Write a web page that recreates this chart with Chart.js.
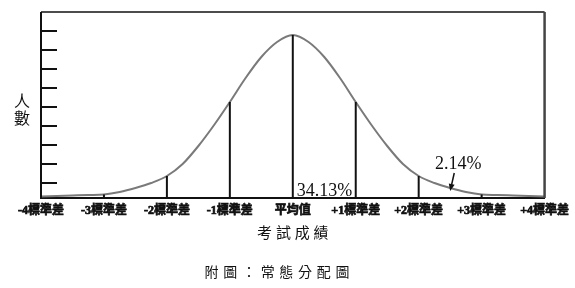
<!DOCTYPE html>
<html>
<head>
<meta charset="utf-8">
<script src="https://cdn.jsdelivr.net/npm/chart.js@4/dist/chart.umd.min.js"></script>
<style>
  html, body { margin: 0; padding: 0; background: #fff; }
  #wrap { width: 575px; height: 288px; position: relative; }
</style>
</head>
<body>
<div id="wrap"><canvas id="c" width="575" height="288"></canvas></div>
<script>
// Standard-deviation positions along the score axis and their labels
const sigmaTicks = [-4, -3, -2, -1, 0, 1, 2, 3, 4];
const sigmaLabels = ['-4標準差', '-3標準差', '-2標準差', '-1標準差', '平均值', '+1標準差', '+2標準差', '+3標準差', '+4標準差'];

// Bell curve: position (in SD) and head-count height
const curveX = [-4, -3.75, -3.5, -3.25, -3, -2.75, -2.5, -2.25, -2, -1.75, -1.5, -1.25, -1, -0.75, -0.5, -0.25,
                0, 0.25, 0.5, 0.75, 1, 1.25, 1.5, 1.75, 2, 2.25, 2.5, 2.75, 3, 3.25, 3.5, 3.75, 4];
const curveY = [1.5, 2, 2.5, 3, 3.5, 6, 10, 15, 22, 34, 52, 73, 96, 120, 141, 156,
                163, 156, 141, 120, 96, 73, 52, 34, 22, 15, 10, 6, 3.5, 3, 2.5, 2, 1.5];

// Short tick marks on the head-count axis
const countTicks = [15, 34, 53, 72, 91, 110, 129, 148, 167];
const countMax = 186;

// Area percentages written on the chart
const bandPercents = ['34.13%', '2.14%'];

const CJK = "'Noto Sans CJK TC'";
const SERIF = "'Liberation Serif', 'Times New Roman', " + CJK;

const curvePoints = curveX.map((x, i) => ({ x, y: curveY[i] }));

// vertical drop lines from the axis up to the curve at each SD (-3..+3)
const dropPoints = [];
sigmaTicks.filter(s => Math.abs(s) <= 3).forEach(s => {
  const v = curveY[curveX.indexOf(s)];
  dropPoints.push({ x: s, y: 0 }, { x: s, y: v }, { x: s, y: null });
});

const decorPlugin = {
  id: 'decor',
  beforeDatasetsDraw(chart) {
    const { ctx, chartArea: a, scales: { y } } = chart;
    ctx.save();
    ctx.strokeStyle = '#111';
    ctx.lineWidth = 2;
    countTicks.forEach(v => {
      const py = Math.round(y.getPixelForValue(v));
      ctx.beginPath();
      ctx.moveTo(a.left, py);
      ctx.lineTo(a.left + 16, py);
      ctx.stroke();
    });
    ctx.restore();
  },
  afterDraw(chart) {
    const { ctx, chartArea: a, scales: { x, y } } = chart;
    ctx.save();
    // frame
    ctx.strokeStyle = '#111';
    ctx.lineWidth = 1.5;
    ctx.beginPath(); ctx.moveTo(a.left, a.top); ctx.lineTo(a.right, a.top); ctx.stroke();
    ctx.lineWidth = 2;
    ctx.beginPath(); ctx.moveTo(a.left, a.top); ctx.lineTo(a.left, a.bottom); ctx.stroke();
    ctx.strokeStyle = '#444';
    ctx.lineWidth = 2.5;
    ctx.beginPath(); ctx.moveTo(a.right, a.top); ctx.lineTo(a.right, a.bottom); ctx.stroke();

    ctx.fillStyle = '#111';
    ctx.textAlign = 'center';
    ctx.textBaseline = 'middle';

    // vertical axis name
    ctx.font = '16px ' + CJK;
    ctx.fillText('人', 22, 101);
    ctx.fillText('數', 22, 118);

    // spaced-out text helper
    const spaced = (txt, cx, cy, step) => {
      const chars = Array.from(txt);
      const start = cx - step * (chars.length - 1) / 2;
      chars.forEach((ch, i) => ctx.fillText(ch, start + i * step, cy));
    };
    ctx.font = '15px ' + CJK;
    spaced('考試成績', x.getPixelForValue(0), 232, 18.8);
    ctx.font = '14px ' + CJK;
    spaced('附圖：常態分配圖', 277, 272, 18.7);

    // percentages
    ctx.font = '18px ' + SERIF;
    ctx.textBaseline = 'alphabetic';
    ctx.textAlign = 'left';
    ctx.fillText(bandPercents[0], x.getPixelForValue(0) + 4, 196);
    ctx.textAlign = 'center';
    ctx.fillText(bandPercents[1], x.getPixelForValue(2.63), 169);

    // arrow to the tail of the curve
    const tx = x.getPixelForValue(2.5), ty = y.getPixelForValue(7);
    const sx = x.getPixelForValue(2.565), sy = 173;
    const ang = Math.atan2(ty - sy, tx - sx);
    ctx.strokeStyle = '#111';
    ctx.lineWidth = 1.5;
    ctx.beginPath(); ctx.moveTo(sx, sy);
    ctx.lineTo(tx - 5 * Math.cos(ang), ty - 5 * Math.sin(ang)); ctx.stroke();
    ctx.beginPath();
    ctx.moveTo(tx, ty);
    ctx.lineTo(tx - 7 * Math.cos(ang) + 3 * Math.sin(ang), ty - 7 * Math.sin(ang) - 3 * Math.cos(ang));
    ctx.lineTo(tx - 7 * Math.cos(ang) - 3 * Math.sin(ang), ty - 7 * Math.sin(ang) + 3 * Math.cos(ang));
    ctx.closePath(); ctx.fill();
    ctx.restore();
  }
};

new Chart(document.getElementById('c'), {
  type: 'line',
  data: {
    datasets: [
      {
        label: 'drops',
        data: dropPoints,
        borderColor: '#111',
        borderWidth: 2,
        pointRadius: 0,
        spanGaps: false,
        tension: 0
      },
      {
        label: 'curve',
        data: curvePoints,
        borderColor: '#7a7a7a',
        borderWidth: 2,
        pointRadius: 0,
        cubicInterpolationMode: 'monotone',
        fill: false
      }
    ]
  },
  options: {
    responsive: false,
    animation: false,
    events: [],
    layout: { padding: { left: 41, right: 30, top: 12, bottom: 0 } },
    plugins: { legend: { display: false }, tooltip: { enabled: false }, title: { display: false } },
    scales: {
      x: {
        type: 'linear',
        min: -4,
        max: 4,
        afterFit: s => { s.height = 90; },
        afterBuildTicks: s => { s.ticks = sigmaTicks.map(v => ({ value: v })); },
        grid: { display: false, drawTicks: false },
        border: { display: true, color: '#111', width: 2 },
        ticks: {
          autoSkip: false,
          maxRotation: 0,
          padding: 6,
          color: '#111',
          textStrokeColor: '#111',
          textStrokeWidth: 0.7,
          font: { family: SERIF, size: 12, weight: 'bold' },
          callback: v => sigmaLabels[sigmaTicks.indexOf(v)]
        }
      },
      y: {
        display: false,
        min: 0,
        max: countMax
      }
    }
  },
  plugins: [decorPlugin]
});
</script>
</body>
</html>
